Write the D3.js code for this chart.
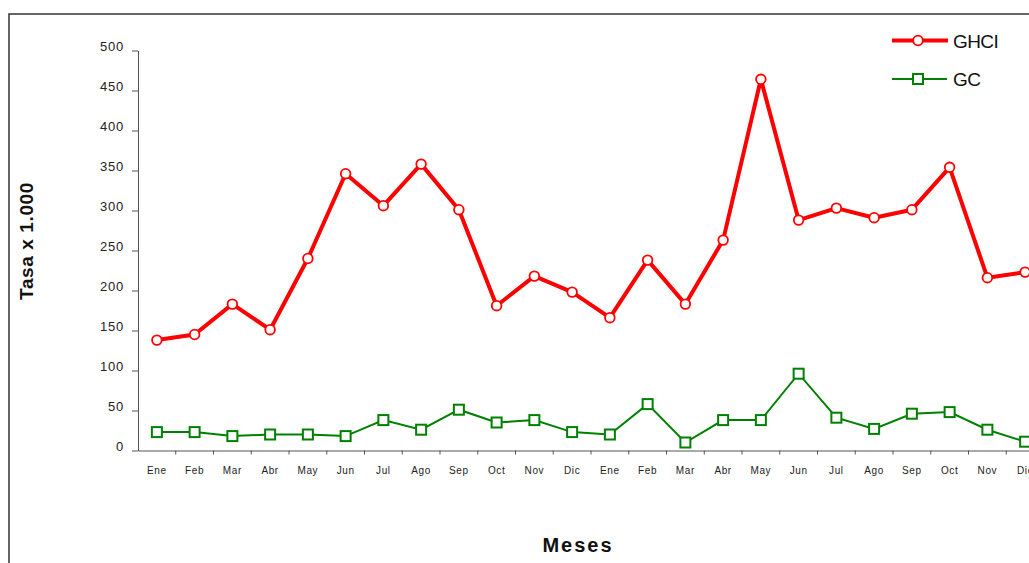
<!DOCTYPE html>
<html>
<head>
<meta charset="utf-8">
<script src="https://cdn.jsdelivr.net/npm/d3@7"></script>
<style>
  html, body { margin: 0; padding: 0; background: #fff; overflow: hidden; }
  svg { display: block; font-family: Arial, "Liberation Sans", sans-serif; }
</style>
</head>
<body>
<svg id="chart" width="1029" height="563"></svg>
<script>
// Monthly rates per 1,000 over two consecutive years
const months = ["Ene","Feb","Mar","Abr","May","Jun","Jul","Ago","Sep","Oct","Nov","Dic",
                "Ene","Feb","Mar","Abr","May","Jun","Jul","Ago","Sep","Oct","Nov","Dic"];
const ghci = [138, 145, 183, 151, 240, 346, 306, 358, 301, 181, 218, 198,
              166, 238, 183, 263, 464, 288, 303, 291, 301, 354, 216, 223];
const gc   = [23, 23, 18, 20, 20, 18, 38, 26, 51, 35, 38, 23,
              20, 58, 10, 38, 38, 96, 41, 27, 46, 48, 26, 11];
const yTicks = [0, 50, 100, 150, 200, 250, 300, 350, 400, 450, 500];
const seriesNames = ["GHCI", "GC"];

const svg = d3.select("#chart");

// outer frame
svg.append("rect")
  .attr("x", 9).attr("y", 14)
  .attr("width", 1040).attr("height", 570)
  .attr("fill", "none").attr("stroke", "#333").attr("stroke-width", 1.5);

const x0 = 138, step = 37.75;
const x = d3.scaleBand()
  .domain(d3.range(months.length))
  .range([x0, x0 + step * months.length])
  .paddingInner(0).paddingOuter(0);
const y = d3.scaleLinear().domain([0, 500]).range([450.5, 50.5]);
const cx = i => x(i) + x.bandwidth() / 2;

// y axis
const yAxis = svg.append("g").attr("transform", `translate(${x0},0)`)
  .call(d3.axisLeft(y).tickValues(yTicks).tickSize(6).tickSizeOuter(0).tickFormat(d3.format("d")));
yAxis.select(".domain").attr("stroke", "#555");
yAxis.selectAll(".tick line").attr("stroke", "#555");
yAxis.selectAll(".tick text")
  .attr("x", -14).attr("dy", "0")
  .attr("font-size", 13).attr("letter-spacing", "0.8px")
  .attr("fill", "#222");

// x axis
const xAxis = svg.append("g").attr("transform", `translate(0,${y(0)})`)
  .call(d3.axisBottom(x).tickSize(0).tickFormat(i => months[i]));
xAxis.select(".domain").attr("stroke", "#555");
xAxis.selectAll(".tick text")
  .attr("y", 0).attr("dy", "23.5")
  .attr("font-size", 10).attr("letter-spacing", "0.6px")
  .attr("fill", "#222");
// tick marks on category boundaries
xAxis.selectAll("line.sep")
  .data(d3.range(1, months.length))
  .join("line")
  .attr("class", "sep")
  .attr("x1", i => x(i)).attr("x2", i => x(i))
  .attr("y1", 0).attr("y2", 4)
  .attr("stroke", "#555");

// series lines
const line = series => d3.line().x((d, i) => cx(i)).y(d => y(d))(series);

svg.append("path").attr("d", line(gc))
  .attr("fill", "none").attr("stroke", "#008000").attr("stroke-width", 2);
svg.append("path").attr("d", line(ghci))
  .attr("fill", "none").attr("stroke", "#ff0000").attr("stroke-width", 4)
  .attr("stroke-linejoin", "round");

// markers
svg.append("g").selectAll("rect")
  .data(gc).join("rect")
  .attr("x", (d, i) => cx(i) - 5).attr("y", d => y(d) - 5)
  .attr("width", 10).attr("height", 10)
  .attr("fill", "#fff").attr("stroke", "#008000").attr("stroke-width", 2);
svg.append("g").selectAll("circle")
  .data(ghci).join("circle")
  .attr("cx", (d, i) => cx(i)).attr("cy", d => y(d))
  .attr("r", 4.8)
  .attr("fill", "#fff").attr("stroke", "#ff0000").attr("stroke-width", 1.8);

// legend
const lg = svg.append("g");
lg.append("line").attr("x1", 892).attr("x2", 948).attr("y1", 40.5).attr("y2", 40.5)
  .attr("stroke", "#ff0000").attr("stroke-width", 4);
lg.append("circle").attr("cx", 918).attr("cy", 40.5).attr("r", 4.8)
  .attr("fill", "#fff").attr("stroke", "#ff0000").attr("stroke-width", 1.8);
lg.append("line").attr("x1", 892).attr("x2", 947).attr("y1", 79).attr("y2", 79)
  .attr("stroke", "#008000").attr("stroke-width", 2);
lg.append("rect").attr("x", 913).attr("y", 74).attr("width", 10).attr("height", 10)
  .attr("fill", "#fff").attr("stroke", "#008000").attr("stroke-width", 2);
lg.selectAll("text").data(seriesNames).join("text")
  .attr("x", 953).attr("y", (d, i) => i === 0 ? 47.5 : 86)
  .attr("font-size", 19).attr("letter-spacing", "-0.6px").attr("fill", "#111")
  .text(d => d);

// axis titles
svg.append("text")
  .attr("transform", "translate(33,241) rotate(-90)")
  .attr("text-anchor", "middle")
  .attr("font-size", 19).attr("font-weight", "bold").attr("letter-spacing", "0.6px")
  .attr("fill", "#111")
  .text("Tasa x 1.000");
svg.append("text")
  .attr("x", 578).attr("y", 552)
  .attr("text-anchor", "middle")
  .attr("font-size", 20).attr("font-weight", "bold").attr("letter-spacing", "2px")
  .attr("fill", "#111")
  .text("Meses");
</script>
</body>
</html>
